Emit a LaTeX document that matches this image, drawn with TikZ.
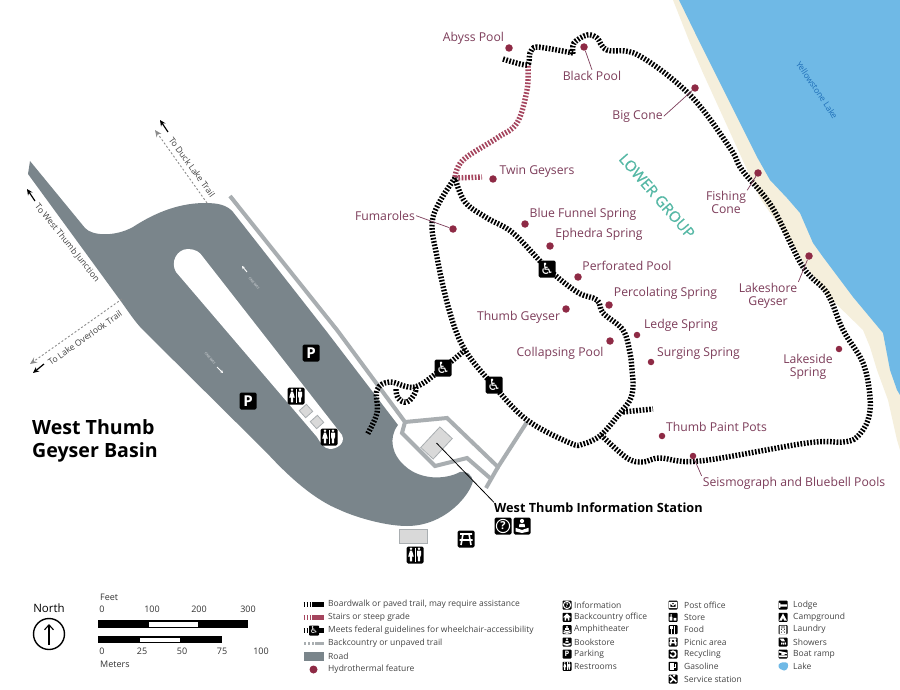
\documentclass[tikz,border=0pt]{standalone}
\usepackage{fontspec}
\setmainfont{Open Sans}
\newfontfamily\dejavu{DejaVu Sans}
\newfontfamily\semib[FakeBold=0.6]{Open Sans}
\usetikzlibrary{arrows.meta}
\definecolor{roadc}{HTML}{7A858B}
\definecolor{pathc}{HTML}{A9AEB1}
\definecolor{lakec}{HTML}{6FB9E6}
\definecolor{sandc}{HTML}{F5EFDC}
\definecolor{featc}{HTML}{8E2A45}
\definecolor{lblc}{HTML}{7D3D5A}
\definecolor{stairc}{HTML}{A5455E}
\definecolor{tealc}{HTML}{55B8A5}
\definecolor{bldc}{HTML}{D9D9D9}
\definecolor{legc}{HTML}{444444}
\definecolor{lakename}{HTML}{1F6FB8}
\tikzset{
 trail/.style={line width=5.4pt,black,dash pattern=on 1.7pt off 1.6pt},
 stairtrail/.style={line width=5.4pt,stairc,dash pattern=on 1.7pt off 1.6pt},
 walkway/.style={line width=4pt,pathc,line join=miter},
 feat/.style={circle,fill=featc,minimum size=7.5pt,inner sep=0pt},
 smallfeat/.style={circle,fill=featc,minimum size=6.5pt,inner sep=0pt},
 lbl/.style={text=lblc,font=\fontsize{12.2}{13}\selectfont,inner sep=1pt,align=center,yshift=-.7pt},
 leader/.style={draw=lblc,line width=.7pt},
 iconbox/.style={fill=black,rounded corners=1.5pt,minimum size=17pt,inner sep=0pt,text=white,font=\fontsize{15}{15}\selectfont\bfseries},
 smallbox/.style={fill=black,rounded corners=.8pt,minimum size=9pt,inner sep=0pt,text=white,font=\fontsize{7.5}{7.5}\selectfont\bfseries},
 wheelglyph/.style={font=\dejavu\fontsize{15.5}{15.5}\selectfont},
 legtxt/.style={text=legc,anchor=west,inner sep=0pt,font=\fontsize{8.5}{9}\selectfont},
 symtxt/.style={text=legc,anchor=west,inner sep=0pt,font=\fontsize{8.5}{9}\selectfont},
 scaletxt/.style={text=black!80,inner sep=0pt,font=\fontsize{9}{10}\selectfont},
 traillbl/.style={text=black!75,inner sep=0pt,font=\fontsize{8.6}{9}\selectfont},
 spur/.style={draw=black!45,line width=.9pt,dash pattern=on 2pt off 2pt,-{Stealth[length=7pt,width=6pt]}},
 toarrow/.style={draw=black,line width=1.2pt,-{Stealth[length=6pt,width=5.5pt]}},
 bld/.style={fill=bldc,draw=pathc,line width=.8pt,inner sep=0pt},
 pics/icorest/.style={code={
   \fill[white] (-4,-6.3) circle (1.4);
   \fill[white] (4,-6.3) circle (1.4);
   \fill[white] (-5,-4.4) -- (-3,-4.4) -- (-1.2,1.5) -- (-2.9,1.5) -- (-2.9,6.3) -- (-5.1,6.3) -- (-5.1,1.5) -- (-6.8,1.5) -- cycle;
   \fill[white,rounded corners=.6pt] (2,-4.4) -- (6,-4.4) -- (6,1) -- (5.2,1) -- (5.2,6.3) -- (2.8,6.3) -- (2.8,1) -- (2,1) -- cycle;
   \draw[white,line width=.8pt] (0,-7) -- (0,7);
 }},
 pics/icopicnic/.style={code={
   \draw[white,line width=1.6pt] (-6,-5) -- (6,-5) (-6.5,1) -- (6.5,1) (-3,-5) -- (-5,6) (3,-5) -- (5,6);
 }},
 pics/icobook/.style={code={
   \fill[white] (0,-5) circle (2.1);
   \fill[white] (-2.6,-2.2) -- (2.6,-2.2) -- (3,1) -- (-3,1) -- cycle;
   \fill[white] (-6.5,1.8) -- (0,4) -- (6.5,1.8) -- (6.5,5.5) -- (0,7) -- (-6.5,5.5) -- cycle;
 }},
 pics/icoinfo/.style={code={
   \draw[white,line width=1pt] (0,0) circle (6.6);
 }},
 pics/icohouse/.style={code={
   \fill[white] (-7,0) -- (0,-7) -- (7,0) -- (4.5,0) -- (4.5,6) -- (1.5,6) -- (1.5,2) -- (-1.5,2) -- (-1.5,6) -- (-4.5,6) -- (-4.5,0) -- cycle;
 }},
 pics/icoamph/.style={code={
   \fill[white] (0,-5) circle (2);
   \fill[white] (-3,-2.5) rectangle (3,1);
   \draw[white,line width=1.2pt] (-6,2) .. controls (-3,4) and (3,4) .. (6,2) (-6.5,5) .. controls (-3,7) and (3,7) .. (6.5,5);
 }},
 pics/icomail/.style={code={
   \draw[white,line width=1.2pt] (-6,-4.5) rectangle (6,4.5) (-6,-4.5) -- (0,.5) -- (6,-4.5);
 }},
 pics/icostore/.style={code={
   \fill[white] (-6,-1) rectangle (-1,6) (1,1) rectangle (6,6) (-4.5,-6) rectangle (-2.5,-1);
 }},
 pics/icofood/.style={code={
   \draw[white,line width=1.5pt] (-3,-7) -- (-3,7) (3,-7) -- (3,7) (-5,-7) -- (-5,-2) -- (-1,-2) -- (-1,-7);
 }},
 pics/icorecyc/.style={code={
   \draw[white,line width=1.6pt,dash pattern=on 8pt off 2.5pt] (0,0) circle (5);
 }},
 pics/icogas/.style={code={
   \fill[white] (-5,-6) rectangle (2,6);
   \draw[white,line width=1pt] (2,2) -- (5,2) -- (5,-5);
 }},
 pics/icoserv/.style={code={
   \draw[white,line width=1.6pt] (-6,-6) -- (6,5) (-5,6) -- (1,0);
   \fill[white] (2,-6) circle (2.5);
 }},
 pics/icolodge/.style={code={
   \fill[white] (-7,-4) rectangle (-5,5) (-5,-1) rectangle (7,3);
 }},
 pics/icotent/.style={code={
   \fill[white] (0,-7) -- (7,6) -- (2,6) -- (0,1) -- (-2,6) -- (-7,6) -- cycle;
 }},
 pics/icolaun/.style={code={
   \draw[white,line width=1.2pt] (-5,-6.5) rectangle (5,6.5) (-5,-3) -- (5,-3) (0,2) circle (2.8);
 }},
 pics/icoshow/.style={code={
   \fill[white] (-6,-6) -- (1,-6) -- (4,-1) -- (-2,-1) -- cycle;
   \draw[white,line width=1.2pt,dash pattern=on 2pt off 1.5pt] (-2,1) -- (-3,6) (1,1) -- (1,6) (4,1) -- (5,6);
 }},
 pics/icoboat/.style={code={
   \draw[white,line width=1.6pt] (-7,-4) -- (7,-1) (-7,4) -- (7,4);
   \fill[white] (-3,-3) -- (5,-1) -- (2,1.5) -- (-3,1.5) -- cycle;
 }},
}
\newcommand{\biglabel}[4]{\node[lbl] (#1) at (#2,#3) {#4};}
\newcommand{\ficon}[3]{\node[smallbox] (#1) at (#2) {}; \pic[scale=.55] at (#1) {#3};}
\begin{document}
\begin{tikzpicture}[x=1pt,y=-1pt]
\useasboundingbox (0,0) rectangle (900,690);
\fill[white] (0,0) rectangle (900,690);
% lake
\fill[sandc] (673,0) -- (690,43) -- (703,73) -- (760,198) -- (780,227) -- (807,267) -- (827,295) -- (863,330) -- (870,347) -- (877,370) -- (888,400) -- (897,440) -- (900,450) -- (900,0) -- cycle;
\fill[lakec] (679,0) -- (700,43) -- (727,97) -- (757,157) -- (770,180) -- (787,198) -- (800,213) -- (813,243) -- (823,257) -- (853,297) -- (883,333) -- (890,370) -- (897,390) -- (900,395) -- (900,0) -- cycle;
\node[text=lakename,rotate=-56,inner sep=0pt,font=\fontsize{8.4}{9}\selectfont] (lakelbl) at (817,90) {Yellowstone Lake};
% road
\fill[roadc] (30,161) -- (85,228) .. controls (92,236) and (115,237) .. (133,227) .. controls (150,216) and (175,203) .. (205,203) .. controls (218,203) and (227,205) .. (233,212) -- (327,332) -- (398,425) .. controls (388,438) and (392,455) .. (405,466) .. controls (420,480) and (445,480) .. (460,472) .. controls (466,470) and (472,475) .. (473,481) .. controls (470,495) and (445,526) .. (407,526) .. controls (385,526) and (355,517) .. (340,510) .. controls (315,500) and (290,478) .. (267,453) -- (143,330) .. controls (135,322) and (128,311) .. (120,300) -- (28,174) -- cycle;
\fill[white] (203,257) -- (342,435) .. controls (346,444) and (336,449) .. (330,449) .. controls (324,449) and (320,442) .. (317,437) -- (176,272) .. controls (170,262) and (177,249) .. (188,249) .. controls (195,249) and (200,252) .. (203,257) -- cycle;
% one way marks
\node[text=white!75!roadc,rotate=-50,inner sep=0pt,font=\fontsize{3.4}{4}\selectfont] (oneway1) at (254,283) {ONE WAY};
\node[text=white!75!roadc,rotate=-50,inner sep=0pt,font=\fontsize{3.4}{4}\selectfont] (oneway2) at (210,358) {ONE WAY};
\draw[white,line width=.9pt,-{Stealth[length=3pt,width=3pt]}] (247,272) -- (242,266);
\draw[white,line width=.9pt,-{Stealth[length=3pt,width=3pt]}] (217,367) -- (223,373);
% walkways
\draw[walkway] (230,196) -- (337,330) -- (405,422) -- (447,418) -- (498,467) -- (527,422);
\draw[walkway] (405,422) -- (402,433) -- (435,466) -- (467,458) -- (490,478);
\draw[walkway] (498,467) -- (486,488);
% buildings
\node[bld,minimum width=28pt,minimum height=17pt,rotate=47] (station) at (436.5,443) {};
\node[bld,minimum width=28pt,minimum height=14pt] (restbld) at (413,536) {};
\node[bld,minimum size=9.5pt,rotate=42] (shelter1) at (306,411) {};
\node[bld,minimum size=9.5pt,rotate=42] (shelter2) at (317,422) {};
% spur trails
\coordinate (duckend) at (155,130);
\coordinate (duckstart) at (207,203);
\coordinate (lakeend) at (30,364);
\coordinate (lakestart) at (122,299);
\draw[spur] (duckstart) -- (duckend);
\draw[spur] (lakestart) -- (lakeend);
\coordinate (a1s) at (168,132); \coordinate (a1e) at (160,120);
\coordinate (a2s) at (35,201); \coordinate (a2e) at (27,189);
\coordinate (a3s) at (44,364); \coordinate (a3e) at (33,373);
\draw[toarrow] (a1s) -- (a1e);
\draw[toarrow] (a2s) -- (a2e);
\draw[toarrow] (a3s) -- (a3e);
\node[traillbl,rotate=-54] (duck) at (192,167) {To Duck Lake Trail};
\node[traillbl,rotate=-51] (wtj) at (67,243) {To West Thumb Junction};
\node[traillbl,rotate=35] (overlook) at (85,338) {To Lake Overlook Trail};
% trails
\coordinate (junction) at (455,178);
\coordinate (lowerjoin) at (465,350);
\coordinate (xjoin) at (601,435);
\draw[stairtrail] plot[smooth,tension=.6] coordinates {(528,66) (527,90) (517,123) (497,138) (463,160) (455,177)};
\draw[stairtrail] (junction) -- (482,177);
\draw[trail] plot[smooth,tension=.45] coordinates {(503,59) (527,65) (530,53) (537,47) (573,53)};
\draw[trail] plot[smooth,tension=.6] coordinates {(573,54) (574,43) (587,35) (597,38) (607,50) (638,55) (690,95) (730,148) (742,170) (772,207) (803,267) (827,293) (843,330) (863,363) (870,397) (868,420) (857,437) (843,442) (807,443) (700,461) (660,458) (643,462) (627,458) (601,435)};
\draw[trail] plot[smooth,tension=.6] coordinates {(455,178) (433,217) (437,257) (450,313) (465,350) (493,385) (527,420) (570,443) (583,444) (601,435) (620,413) (630,400) (633,387) (632,370) (630,353) (623,330) (603,313) (597,300) (577,292) (547,268) (513,233) (487,218) (465,202) (455,178)};
\draw[trail] plot[smooth,tension=.5] coordinates {(623,412) (653,409)};
\draw[trail] plot[smooth,tension=.6] coordinates {(465,350) (443,368) (415,387) (390,382) (377,390) (377,413) (367,435)};
\draw[trail] plot[smooth,tension=.7] coordinates {(415,387) (415,393) (407,402) (398,398) (396,388)};
% leader to station
\node[text=black,anchor=west,inner sep=0pt,font=\fontsize{12.7}{13}\selectfont\bfseries] (stationlbl) at (494,507.5) {West Thumb Information Station};
\draw[black,line width=.8pt] (station.center) -- (stationlbl.north west);
% features
\node[feat] (fabyss) at (509,48) {};
\node[feat] (fblack) at (584,47) {};
\node[feat] (fbig) at (695,88) {};
\node[feat] (ffish) at (758,173) {};
\node[feat] (fshore) at (809,256) {};
\node[feat] (ftwin) at (493,179) {};
\node[feat] (ffum) at (453,229) {};
\node[feat] (ffunnel) at (525,224) {};
\node[feat] (feph) at (550,246) {};
\node[feat] (fperf) at (578,277) {};
\node[feat] (fperc) at (609,305) {};
\node[feat] (fthumb) at (566,309) {};
\node[smallfeat] (fledge) at (637,335) {};
\node[feat] (fcoll) at (610,341) {};
\node[smallfeat] (fsurg) at (651,362) {};
\node[smallfeat] (fside) at (839,349) {};
\node[smallfeat] (fpots) at (662,436) {};
\node[smallfeat] (fseis) at (693,456) {};
% labels
\biglabel{labyss}{473.5}{37.5}{Abyss Pool}
\biglabel{lblack}{592}{75}{Black Pool}
\biglabel{lbig}{637.5}{115.5}{Big Cone}
\biglabel{ltwin}{537}{170.5}{Twin Geysers}
\biglabel{lfum}{385}{215}{Fumaroles}
\biglabel{lfunnel}{583}{213.5}{Blue Funnel Spring}
\biglabel{leph}{599}{234}{Ephedra Spring}
\biglabel{lperf}{627}{265.5}{Perforated Pool}
\biglabel{lperc}{665.5}{292.5}{Percolating Spring}
\biglabel{lthumb}{518.5}{316.5}{Thumb Geyser}
\biglabel{lledge}{681}{325}{Ledge Spring}
\biglabel{lcoll}{560}{352.5}{Collapsing Pool}
\biglabel{lsurg}{698.5}{352.5}{Surging Spring}
\biglabel{lpots}{716.5}{426.5}{Thumb Paint Pots}
\biglabel{lseis}{794}{482.5}{Seismograph and Bluebell Pools}
\node[lbl,inner sep=1pt] (lfish) at (726,202) {Fishing\\Cone};
\node[lbl,inner sep=1pt] (lshore) at (768,295) {Lakeshore\\Geyser};
\node[lbl,inner sep=1pt] (lside) at (808,366) {Lakeside\\Spring};
\draw[leader] (fblack) -- (lblack.north);
\draw[leader] (fbig) -- (lbig.east);
\draw[leader] (ffum) -- (lfum.east);
\draw[leader] (ffish) -- (lfish.north east);
\draw[leader] (fshore) -- (lshore.north east);
\draw[leader] (fseis) -- (lseis.north west);
\node[text=tealc,rotate=-49,inner sep=0pt,font=\semib\fontsize{15}{15}\selectfont] (lower) at (657,196) {LOWER GROUP};
\node[anchor=west,inner sep=0pt,align=left,font=\fontsize{19.6}{23}\selectfont\bfseries] (title) at (32,441) {West Thumb\\Geyser Basin};
% map icons
\node[iconbox] (p1) at (311,353) {P};
\node[iconbox] (p2) at (248,401) {P};
\node[iconbox] (r1) at (296,396) {}; \pic at (r1) {icorest};
\node[iconbox] (r2) at (329,437) {}; \pic at (r2) {icorest};
\node[iconbox] (r3) at (415,555) {}; \pic at (r3) {icorest};
\node[iconbox] (pic1) at (466,539) {}; \pic at (pic1) {icopicnic};
\node[iconbox,font=\fontsize{11}{11}\selectfont\bfseries] (info1) at (503,526) {?}; \pic at (info1) {icoinfo};
\node[iconbox] (book1) at (522,526) {}; \pic at (book1) {icobook};
\node[iconbox,wheelglyph] (w1) at (547,269) {\char"267F};
\node[iconbox,wheelglyph] (w2) at (443,368) {\char"267F};
\node[iconbox,wheelglyph] (w3) at (494,385) {\char"267F};
% north & scale
\node[inner sep=0pt,font=\fontsize{11.5}{12}\selectfont] (north) at (49,608) {North};
\node[circle,draw=black,line width=1.4pt,minimum size=31pt,inner sep=0pt] (ncirc) at (49,634) {};
\coordinate (ntail) at (49,645);
\coordinate (nhead) at (49,624);
\draw[black,line width=1.1pt,-{Straight Barb[length=5pt,width=9pt]}] (ntail) -- (nhead);
\node[scaletxt,anchor=west] (feet) at (100,597) {Feet};
\node[scaletxt] (f0) at (102,609.5) {0};
\node[scaletxt] (f1) at (152,609.5) {100};
\node[scaletxt] (f2) at (199,609.5) {200};
\node[scaletxt] (f3) at (248,609.5) {300};
\fill[black] (98,620) rectangle (248,628);
\fill[white] (149,621.5) rectangle (198,626.5);
\fill[black] (98,636) rectangle (222,643);
\fill[white] (140,637.5) rectangle (180,641.5);
\node[scaletxt] (m0) at (102,651) {0};
\node[scaletxt] (m1) at (142,651) {25};
\node[scaletxt] (m2) at (182,651) {50};
\node[scaletxt] (m3) at (222,651) {75};
\node[scaletxt] (m4) at (261,651) {100};
\node[scaletxt,anchor=west] (meters) at (100,664) {Meters};
% line legend
\draw[line width=5pt,black,dash pattern=on 1.5pt off 1.5pt] (303.5,604.5) -- (312,604.5);
\draw[line width=5pt,black] (312,604.5) -- (323.5,604.5);
\draw[line width=5pt,stairc,dash pattern=on 1.5pt off 1.5pt] (303.5,617.5) -- (312,617.5);
\draw[line width=5pt,stairc] (312,617.5) -- (323.5,617.5);
\draw[line width=5pt,black,dash pattern=on 1.5pt off 1.5pt] (303.5,630.5) -- (310,630.5);
\draw[line width=5pt,black] (318,630.5) -- (323.5,630.5);
\node[smallbox,minimum size=10pt,font=\dejavu\fontsize{9.5}{9.5}\selectfont] (legw) at (314,630.5) {\char"267F};
\draw[line width=3.5pt,pathc,dash pattern=on 2pt off 2pt] (304,643.5) -- (314,643.5);
\draw[line width=3.5pt,pathc] (315,643.5) -- (323.5,643.5);
\fill[roadc] (303.5,652) rectangle (323.5,661);
\node[circle,fill=featc,minimum size=8pt,inner sep=0pt] (legf) at (313.5,669.5) {};
\node[legtxt] (t1) at (328,604.5) {Boardwalk or paved trail, may require assistance};
\node[legtxt] (t2) at (328,617.5) {Stairs or steep grade};
\node[legtxt] (t3) at (328,630.5) {Meets federal guidelines for wheelchair-accessibility};
\node[legtxt] (t4) at (328,643.5) {Backcountry or unpaved trail};
\node[legtxt] (t5) at (328,656.5) {Road};
\node[legtxt] (t6) at (328,669.5) {Hydrothermal feature};
% symbol legend
\node[smallbox,font=\fontsize{6}{6}\selectfont\bfseries] (s1) at (567,605) {?}; \pic[scale=.55] at (s1) {icoinfo};
\ficon{s2}{567,617.3}{icohouse}
\ficon{s3}{567,629.7}{icoamph}
\ficon{s4}{567,642}{icobook}
\node[smallbox] (s5) at (567,654) {P};
\ficon{s6}{567,666.3}{icorest}
\ficon{s7}{673,605}{icomail}
\ficon{s8}{673,617.3}{icostore}
\ficon{s9}{673,629.7}{icofood}
\ficon{s10}{673,642}{icopicnic}
\ficon{s11}{673,654}{icorecyc}
\ficon{s12}{673,666.3}{icogas}
\ficon{s13}{673,679}{icoserv}
\ficon{s14}{783,605}{icolodge}
\ficon{s15}{783,617.3}{icotent}
\ficon{s16}{783,629.7}{icolaun}
\ficon{s17}{783,642}{icoshow}
\ficon{s18}{783,654}{icoboat}
\fill[lakec] (778.5,665) .. controls (780,662) and (785,661.5) .. (787.5,663) .. controls (789,666) and (787.5,670.5) .. (784,670.5) .. controls (781,670.5) and (778,668) .. (778.5,665) -- cycle;
\node[symtxt] (u1) at (574,605) {Information};
\node[symtxt] (u2) at (574,617.3) {Backcountry office};
\node[symtxt] (u3) at (574,629.7) {Amphitheater};
\node[symtxt] (u4) at (574,642) {Bookstore};
\node[symtxt] (u5) at (574,654) {Parking};
\node[symtxt] (u6) at (574,666.3) {Restrooms};
\node[symtxt] (u7) at (684,605) {Post office};
\node[symtxt] (u8) at (684,617.3) {Store};
\node[symtxt] (u9) at (684,629.7) {Food};
\node[symtxt] (u10) at (684,642) {Picnic area};
\node[symtxt] (u11) at (684,654) {Recycling};
\node[symtxt] (u12) at (684,666.3) {Gasoline};
\node[symtxt] (u13) at (684,679) {Service station};
\node[symtxt] (u14) at (793,605) {Lodge};
\node[symtxt] (u15) at (793,617.3) {Campground};
\node[symtxt] (u16) at (793,629.7) {Laundry};
\node[symtxt] (u17) at (793,642) {Showers};
\node[symtxt] (u18) at (793,654) {Boat ramp};
\node[symtxt] (u19) at (793,666.3) {Lake};
\end{tikzpicture}
\end{document}
